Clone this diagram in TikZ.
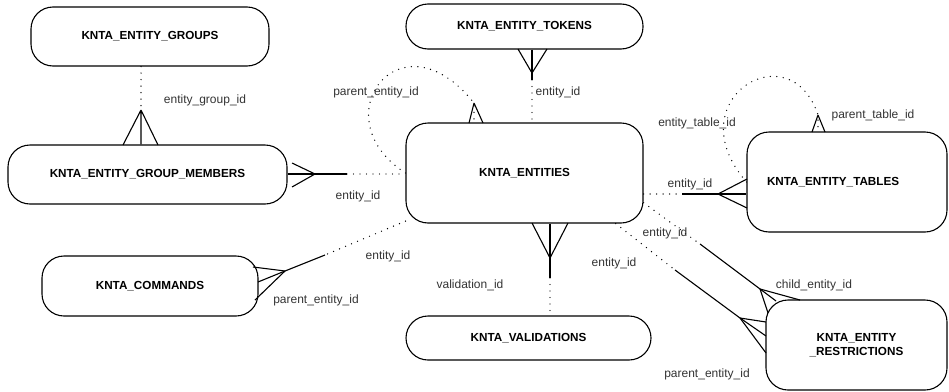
\documentclass[tikz,border=0pt]{standalone}
\usepackage{fontspec}
\setmainfont{Liberation Sans}
\usepackage{tikz}

\tikzset{
  tbl/.style={draw, line width=1.1pt, rounded corners=22pt, inner sep=2pt,
    font=\fontsize{11.7}{14}\selectfont\bfseries},
  lbl/.style={inner sep=0pt, text=black!80, font=\fontsize{12}{14}\selectfont},
  rel/.style={line width=1.4pt, dash pattern=on 0pt off 6.5pt, line cap=round},
  foot/.style={line width=1.1pt}
}

\begin{document}
\begin{tikzpicture}[x=1pt,y=-1pt]
        \useasboundingbox (0,0) rectangle (949,391);
        % Draw tables
        \node[tbl, minimum width=238pt, minimum height=59pt] (grp) at (150,36.5) {KNTA\_ENTITY\_GROUPS};
        \node[tbl, minimum width=279pt, minimum height=59pt] (mem) at (147.5,174.5) {KNTA\_ENTITY\_GROUP\_MEMBERS};
        \node[tbl, minimum width=237pt, minimum height=45pt] (tok) at (524.5,26.5) {KNTA\_ENTITY\_TOKENS};
        \node[tbl, minimum width=237pt, minimum height=100pt] (ent) at (524.5,173) {KNTA\_ENTITIES};
        \node[tbl, minimum width=200pt, minimum height=100pt, text width=160pt, inner xsep=20pt, align=left] (tab) at (847,182) {KNTA\_ENTITY\_TABLES};
        \node[tbl, minimum width=216pt, minimum height=60pt] (cmd) at (150,286) {KNTA\_COMMANDS};
        \node[tbl, minimum width=245pt, minimum height=44pt] (val) at (528.5,338) {KNTA\_VALIDATIONS};
        \node[tbl, minimum width=181pt, minimum height=90pt, align=center] (res) at (856.5,345) {KNTA\_ENTITY\\\_RESTRICTIONS};

        % Groups -> group members
        \coordinate (gmtip) at (141,110);
        \draw[rel] (grp.south -| gmtip) -- (gmtip);
        \draw[foot] (gmtip) -- (gmtip |- mem.north) (gmtip) -- ++(-18,35) (gmtip) -- ++(17,35);
        \node[lbl] (lgm) at (205,100) {entity\_group\_id};

        % Group members -> entities
        \coordinate (metip) at (315,174);
        \coordinate (mebrk) at (347,174);
        \draw[foot] (mem.east |- metip) -- (metip) -- (mebrk);
        \draw[foot] (metip) -- ++(-23,-11) (metip) -- ++(-23,13);
        \draw[rel] (mebrk) -- (ent.west |- mebrk);
        \node[lbl] (lme) at (358,196) {entity\_id};

        % Entities -> parent entity
        \coordinate (peltip) at (474,103);
        \draw[rel] (ent.west) .. controls (320,118) and (400,10) .. (peltip) -- (peltip |- ent.north);
        \draw[foot] (peltip) -- ++(-5,20) (peltip) -- ++(9,20);
        \node[lbl] (lpel) at (376,92) {parent\_entity\_id};

        % Tokens -> entities
        \coordinate (tetip) at (532,73);
        \coordinate (tebrk) at (532,80);
        \draw[foot] (tok.south -| tetip) -- (tebrk);
        \draw[foot] (tetip) -- ++(-14,-24) (tetip) -- ++(15,-24);
        \draw[rel] (tebrk) -- (ent.north -| tebrk);
        \node[lbl] (lte) at (558,92) {entity\_id};

        % Entities -> tables
        \coordinate (ettip) at (718,194);
        \coordinate (etbrk) at (682,194);
        \draw[rel] (ent.east |- etbrk) -- (etbrk);
        \draw[foot] (etbrk) -- (ettip) -- (tab.west |- ettip);
        \draw[foot] (ettip) -- ++(29,-15) (ettip) -- ++(29,14);
        \node[lbl] (let) at (690,184) {entity\_id};

        % Tables -> parent table
        \coordinate (pttip) at (818,115);
        \draw[rel] (tab.west) .. controls (675,100) and (790,30) .. (pttip) -- (pttip |- tab.north);
        \draw[foot] (pttip) -- ++(-6,17) (pttip) -- ++(7,17);
        \node[lbl] (lett) at (697,123) {entity\_table\_id};
        \node[lbl] (lpt) at (873,115) {parent\_table\_id};

        % Entities -> restrictions (child)
        \coordinate (cetip) at (760,289);
        \coordinate (cebrk) at (700,244);
        \draw[rel] (ent.-14) -- (cebrk);
        \draw[foot] (cebrk) -- (cetip) -- ++(16,12);
        \draw[foot] (cetip) -- ++(8,24) (cetip) -- ++(40,11);
        \node[lbl] (lce) at (665,233) {entity\_id};
        \node[lbl] (lch) at (814,285) {child\_entity\_id};

        % Entities -> restrictions (parent)
        \coordinate (petip) at (740,318);
        \coordinate (pebrk) at (675,270);
        \draw[rel] (ent.-29.5) -- (pebrk);
        \draw[foot] (pebrk) -- (petip) -- ++(26,18);
        \draw[foot] (petip) -- ++(26,4) (petip) -- ++(26,35);
        \node[lbl] (lpe) at (614,263) {entity\_id};
        \node[lbl] (lpr) at (707,374) {parent\_entity\_id};

        % Entities -> commands
        \coordinate (cmtip) at (285,271);
        \coordinate (cmbrk) at (325,255);
        \draw[rel] (ent.202) -- (cmbrk);
        \draw[foot] (cmbrk) -- (cmtip) -- ++(-27,11);
        \draw[foot] (cmtip) -- ++(-32,-4) (cmtip) -- ++(-30,29);
        \node[lbl] (lcm) at (388,256) {entity\_id};
        \node[lbl] (lcp) at (316,300) {parent\_entity\_id};

        % Validations -> entities
        \coordinate (evtip) at (550,258);
        \coordinate (evbrk) at (550,278);
        \draw[foot] (ent.south -| evtip) -- (evbrk);
        \draw[foot] (evtip) -- ++(-18,-35) (evtip) -- ++(18,-35);
        \draw[rel] (evbrk) -- (val.north -| evbrk);
        \node[lbl] (lev) at (470,285) {validation\_id};
    \end{tikzpicture}
\end{document}
